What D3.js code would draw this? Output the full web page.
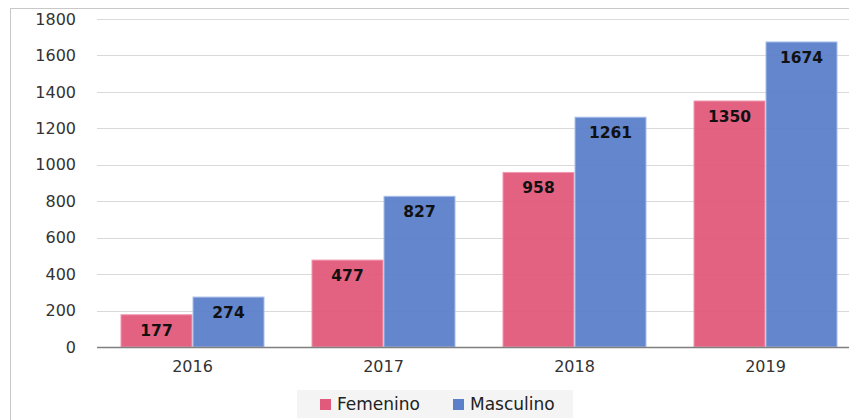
<!DOCTYPE html>
<meta charset="utf-8">
<style>
body { margin: 0; background: #fff; }
.chart text { font-family: "DejaVu Sans", sans-serif; }
.tick text { fill: #333; font-size: 16px; }
.grid line { stroke: #d9d9d9; }
.label { font-weight: bold; font-size: 15.5px; fill: #111; text-anchor: middle; }
.legend text { font-size: 17px; fill: #222; }
</style>
<svg class="chart" width="849" height="420"></svg>
<script src="https://d3js.org/d3.v7.min.js"></script>
<script>

var years = ["2016", "2017", "2018", "2019"];
var series = ["Femenino", "Masculino"];
var femenino = [177, 477, 958, 1350];
var masculino = [274, 827, 1261, 1674];
var yTicks = [0, 200, 400, 600, 800, 1000, 1200, 1400, 1600, 1800];
var colors = ["#e25a7b", "#5b80c9"];
var strokes = ["#f29ab0", "#a9bfeb"];

var svg = d3.select(".chart");

var plotLeft = 97, plotRight = 861, plotTop = 19, plotBottom = 347;

var x0 = d3.scaleBand().domain(years).range([plotLeft, plotRight])
    .paddingInner(0.246).paddingOuter(0.123);
var x1 = d3.scaleBand().domain(series).range([0, x0.bandwidth()]);
var y = d3.scaleLinear().domain([0, 1800]).range([plotBottom, plotTop]);

// frame
svg.append("line").attr("x1", 10.5).attr("x2", 10.5).attr("y1", 8).attr("y2", 420)
    .attr("stroke", "#c8c8c8");
svg.append("line").attr("x1", 10).attr("x2", 849).attr("y1", 8.5).attr("y2", 8.5)
    .attr("stroke", "#c8c8c8");

// gridlines
svg.append("g").attr("class", "grid")
  .selectAll("line").data(yTicks.slice(1)).enter().append("line")
    .attr("x1", plotLeft).attr("x2", 849)
    .attr("y1", function(d) { return Math.round(y(d)) + 0.5; })
    .attr("y2", function(d) { return Math.round(y(d)) + 0.5; });

// y axis labels
var yAxis = d3.axisLeft(y).tickValues(yTicks).tickFormat(d3.format("d"))
    .tickSize(0).tickPadding(21);
svg.append("g").attr("transform", "translate(" + plotLeft + ",0)").call(yAxis)
    .call(function(g) { g.select(".domain").remove(); });

var data = years.map(function(yr, i) {
  return { year: yr, values: [femenino[i], masculino[i]] };
});

var group = svg.selectAll(".year").data(data).enter().append("g")
    .attr("class", "year")
    .attr("transform", function(d) { return "translate(" + x0(d.year) + ",0)"; });

var bar = group.selectAll("g").data(function(d) {
  return d.values.map(function(v, j) { return { key: series[j], value: v, j: j }; });
}).enter().append("g");

bar.append("rect")
    .attr("x", function(d) { return x1(d.key) + 0.5; })
    .attr("y", function(d) { return y(d.value); })
    .attr("width", x1.bandwidth() - 1)
    .attr("height", function(d) { return y(0) - y(d.value); })
    .attr("fill", function(d) { return colors[d.j]; })
    .attr("fill-opacity", 0.95)
    .attr("stroke", function(d) { return strokes[d.j]; });

bar.append("text").attr("class", "label")
    .attr("x", function(d) { return x1(d.key) + x1.bandwidth() / 2; })
    .attr("y", function(d) { return y(d.value) + 21; })
    .text(function(d) { return d.value; });

// x axis
var xAxis = d3.axisBottom(x0).tickSize(0).tickPadding(14);
svg.append("g").attr("transform", "translate(0," + plotBottom + ")").call(xAxis)
    .call(function(g) { g.select(".domain").remove(); })
    .selectAll("text").style("font-size", "16px");
svg.append("line").attr("x1", plotLeft).attr("x2", 849)
    .attr("y1", plotBottom + 0.5).attr("y2", plotBottom + 0.5)
    .attr("stroke", "#7f7f7f").attr("stroke-width", 1.5);

// legend
var legend = svg.append("g").attr("class", "legend");
legend.append("rect").attr("x", 297).attr("y", 390).attr("width", 276).attr("height", 28)
    .attr("fill", "#f4f4f4");
var lx = [320, 453];
series.forEach(function(s, i) {
  legend.append("rect").attr("x", lx[i]).attr("y", 399).attr("width", 11).attr("height", 11)
      .attr("fill", colors[i]);
  legend.append("text").attr("x", lx[i] + 17).attr("y", 410).text(s);
});

</script>
